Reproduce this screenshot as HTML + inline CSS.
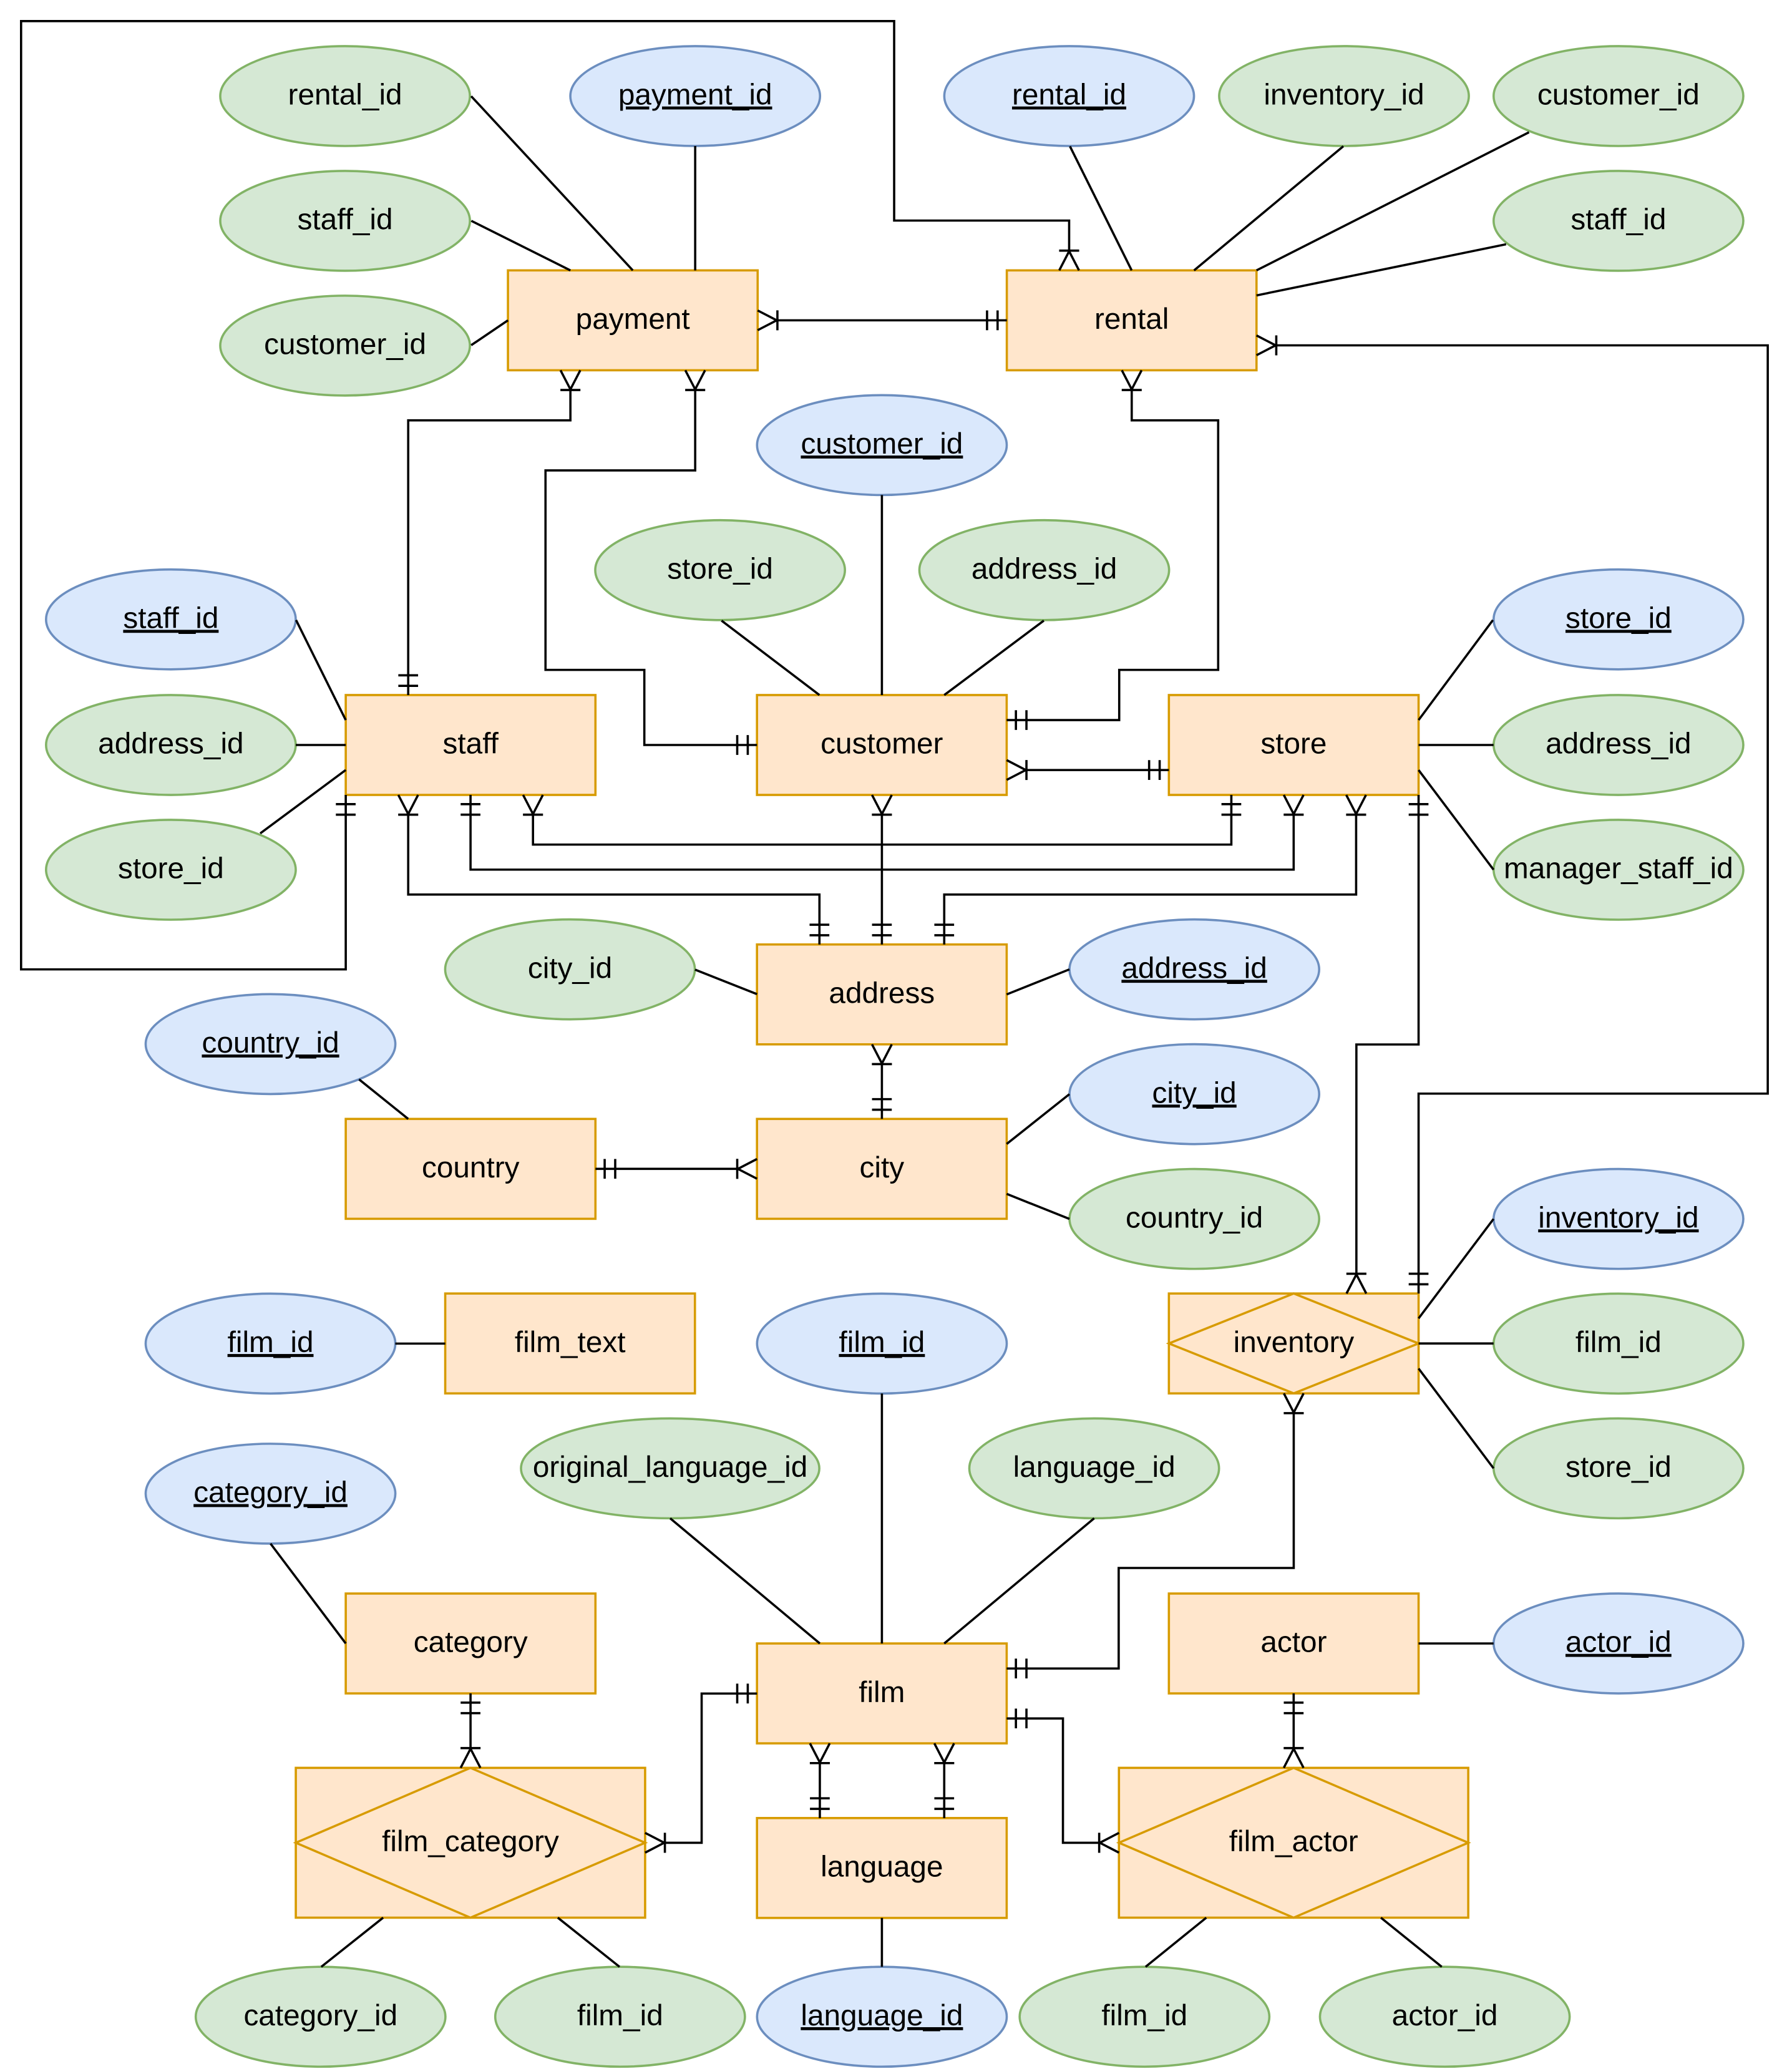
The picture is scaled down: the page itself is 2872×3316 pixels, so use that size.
<!DOCTYPE html>
<html>
<head>
<meta charset="utf-8">
<style>
html,body{margin:0;padding:0;background:#fff;}
svg{display:block;}
text{font-family:"Liberation Sans",Arial,Helvetica,sans-serif;font-size:22.6px;text-anchor:middle;fill:#000;}
.u{text-decoration:underline;}
.ent{fill:#ffe6cc;stroke:#d79b00;stroke-width:1.7;}
.g{fill:#d5e8d4;stroke:#82b366;stroke-width:1.7;}
.b{fill:#dae8fc;stroke:#6c8ebf;stroke-width:1.7;}
.ln{fill:none;stroke:#000;stroke-width:1.7;}
</style>
</head>
<body>
<svg xmlns="http://www.w3.org/2000/svg" width="2872" height="3316" viewBox="0 0 1360 1570.25">
<defs>
  <g id="mny"><path d="M0 -7.5 L14.5 0 L0 7.5 M15 -7.6 V7.6" fill="none" stroke="#000" stroke-width="1.7"/></g>
  <g id="one"><path d="M7 -7.5 V7.5 M15 -7.5 V7.5" fill="none" stroke="#000" stroke-width="1.7"/></g>
</defs>
<rect x="0" y="0" width="1360" height="1570.25" fill="#fff"/>

<!-- Entities -->
<rect class="ent" x="385.5" y="205.2" width="189.5" height="75.8"/>
<rect class="ent" x="764.1" y="205.2" width="189.5" height="75.8"/>
<rect class="ent" x="262.4" y="527.5" width="189.5" height="75.8"/>
<rect class="ent" x="574.5" y="527.5" width="189.5" height="75.8"/>
<rect class="ent" x="887.1" y="527.5" width="189.5" height="75.8"/>
<rect class="ent" x="574.5" y="716.8" width="189.5" height="75.8"/>
<rect class="ent" x="262.4" y="849.2" width="189.5" height="75.8"/>
<rect class="ent" x="574.5" y="849.2" width="189.5" height="75.8"/>
<rect class="ent" x="337.9" y="981.7" width="189.5" height="75.8"/>
<rect class="ent" x="887.1" y="981.7" width="189.5" height="75.8"/>
<polygon class="ent" points="887.1,1019.6 981.85,981.7 1076.6,1019.6 981.85,1057.5"/>
<rect class="ent" x="262.4" y="1209.4" width="189.5" height="75.8"/>
<rect class="ent" x="574.5" y="1247.3" width="189.5" height="75.8"/>
<rect class="ent" x="887.1" y="1209.4" width="189.5" height="75.8"/>
<rect class="ent" x="574.5" y="1379.8" width="189.5" height="75.8"/>
<rect class="ent" x="224.5" y="1341.7" width="265.1" height="113.7"/>
<polygon class="ent" points="224.5,1398.55 357.05,1341.7 489.6,1398.55 357.05,1455.4"/>
<rect class="ent" x="849.2" y="1341.7" width="265.1" height="113.7"/>
<polygon class="ent" points="849.2,1398.55 981.75,1341.7 1114.3,1398.55 981.75,1455.4"/>

<!-- Attribute ellipses -->
<ellipse class="g" cx="261.9" cy="72.9" rx="94.75" ry="37.9"/>
<ellipse class="b" cx="527.6" cy="72.9" rx="94.75" ry="37.9"/>
<ellipse class="b" cx="811.4" cy="72.9" rx="94.75" ry="37.9"/>
<ellipse class="g" cx="1020" cy="72.9" rx="94.75" ry="37.9"/>
<ellipse class="g" cx="1228.3" cy="72.9" rx="94.75" ry="37.9"/>
<ellipse class="g" cx="261.9" cy="167.6" rx="94.75" ry="37.9"/>
<ellipse class="g" cx="1228.3" cy="167.6" rx="94.75" ry="37.9"/>
<ellipse class="g" cx="261.9" cy="262.3" rx="94.75" ry="37.9"/>
<ellipse class="b" cx="669.3" cy="337.8" rx="94.75" ry="37.9"/>
<ellipse class="g" cx="546.5" cy="432.7" rx="94.75" ry="37.9"/>
<ellipse class="g" cx="792.5" cy="432.7" rx="94.75" ry="37.9"/>
<ellipse class="b" cx="129.7" cy="470.1" rx="94.75" ry="37.9"/>
<ellipse class="g" cx="129.7" cy="565.4" rx="94.75" ry="37.9"/>
<ellipse class="g" cx="129.7" cy="660.1" rx="94.75" ry="37.9"/>
<ellipse class="b" cx="1228.3" cy="470.1" rx="94.75" ry="37.9"/>
<ellipse class="g" cx="1228.3" cy="565.4" rx="94.75" ry="37.9"/>
<ellipse class="g" cx="1228.3" cy="660.1" rx="94.75" ry="37.9"/>
<ellipse class="g" cx="432.6" cy="735.7" rx="94.75" ry="37.9"/>
<ellipse class="b" cx="906.4" cy="735.7" rx="94.75" ry="37.9"/>
<ellipse class="b" cx="205.3" cy="792.4" rx="94.75" ry="37.9"/>
<ellipse class="b" cx="906.4" cy="830.4" rx="94.75" ry="37.9"/>
<ellipse class="g" cx="906.4" cy="925.1" rx="94.75" ry="37.9"/>
<ellipse class="b" cx="1228.3" cy="925.1" rx="94.75" ry="37.9"/>
<ellipse class="b" cx="205.3" cy="1019.7" rx="94.75" ry="37.9"/>
<ellipse class="b" cx="669.3" cy="1019.7" rx="94.75" ry="37.9"/>
<ellipse class="g" cx="1228.3" cy="1019.7" rx="94.75" ry="37.9"/>
<ellipse class="g" cx="1228.3" cy="1114.4" rx="94.75" ry="37.9"/>
<ellipse class="g" cx="508.6" cy="1114.4" rx="113.2" ry="37.9"/>
<ellipse class="g" cx="830.4" cy="1114.4" rx="94.75" ry="37.9"/>
<ellipse class="b" cx="205.3" cy="1133.6" rx="94.75" ry="37.9"/>
<ellipse class="b" cx="1228.3" cy="1247.3" rx="94.75" ry="37.9"/>
<ellipse class="g" cx="243.3" cy="1530.6" rx="94.75" ry="37.9"/>
<ellipse class="g" cx="470.6" cy="1530.6" rx="94.75" ry="37.9"/>
<ellipse class="b" cx="669.3" cy="1530.6" rx="94.75" ry="37.9"/>
<ellipse class="g" cx="868.6" cy="1530.6" rx="94.75" ry="37.9"/>
<ellipse class="g" cx="1096.5" cy="1530.6" rx="94.75" ry="37.9"/>

<!-- Attribute lines -->
<g class="ln">
<line x1="357.6" y1="73" x2="480.25" y2="205.2"/>
<line x1="357.7" y1="167.6" x2="432.9" y2="205.2"/>
<line x1="357.6" y1="262" x2="385.5" y2="243.1"/>
<line x1="527.6" y1="110.8" x2="527.6" y2="205.2"/>
<line x1="812" y1="111" x2="858.85" y2="205.2"/>
<line x1="1019.5" y1="111" x2="906.2" y2="205.2"/>
<line x1="1160.4" y1="100.4" x2="953.6" y2="205.2"/>
<line x1="1143" y1="185.4" x2="953.6" y2="224.2"/>
<line x1="669.3" y1="375.7" x2="669.3" y2="527.5"/>
<line x1="547.6" y1="471" x2="621.9" y2="527.5"/>
<line x1="792.2" y1="471" x2="716.6" y2="527.5"/>
<line x1="224.7" y1="470.6" x2="262.4" y2="546.5"/>
<line x1="224.5" y1="565.4" x2="262.4" y2="565.4"/>
<line x1="197.5" y1="632.5" x2="262.4" y2="584.4"/>
<line x1="1076.6" y1="546.5" x2="1133" y2="470.6"/>
<line x1="1076.6" y1="565.4" x2="1133.5" y2="565.4"/>
<line x1="1076.6" y1="584.4" x2="1133.5" y2="660.1"/>
<line x1="527.5" y1="735.9" x2="574.5" y2="754.5"/>
<line x1="764" y1="754.7" x2="811.6" y2="735.7"/>
<line x1="272.5" y1="819.2" x2="309.8" y2="849.2"/>
<line x1="764" y1="868.2" x2="811.6" y2="830.4"/>
<line x1="764" y1="906.1" x2="811.6" y2="925.1"/>
<line x1="300" y1="1019.7" x2="337.9" y2="1019.7"/>
<line x1="1076.6" y1="1000.6" x2="1133.5" y2="925.1"/>
<line x1="1076.6" y1="1019.6" x2="1133.5" y2="1019.6"/>
<line x1="1076.6" y1="1038.6" x2="1133.5" y2="1114.4"/>
<line x1="205.3" y1="1171.5" x2="262.4" y2="1247.3"/>
<line x1="669.3" y1="1057.6" x2="669.3" y2="1247.3"/>
<line x1="508.6" y1="1152.3" x2="622.2" y2="1247.3"/>
<line x1="830.4" y1="1152.3" x2="716.6" y2="1247.3"/>
<line x1="1076.6" y1="1247.3" x2="1133.5" y2="1247.3"/>
<line x1="243.8" y1="1492.7" x2="290.8" y2="1455.4"/>
<line x1="470.2" y1="1492.7" x2="423.3" y2="1455.4"/>
<line x1="669.3" y1="1455.6" x2="669.3" y2="1492.7"/>
<line x1="869.4" y1="1492.7" x2="915.5" y2="1455.4"/>
<line x1="1094.2" y1="1492.7" x2="1048" y2="1455.4"/>
</g>

<!-- Relationship connectors -->
<g class="ln">
<path d="M590 243.1 H764.1"/>
<path d="M262.4 603.3 V735.7 H16 V16 H678.6 V167.4 H811.4 V190.2"/>
<path d="M432.9 296 V319 H309.8 V527.5"/>
<path d="M527.6 296 V357 H414 V508.4 H489 V565.4 H574.5"/>
<path d="M858.9 296 V319 H924.5 V508.4 H849.4 V546.5 H764"/>
<path d="M779 584.4 H887.1"/>
<path d="M309.8 618.3 V678.9 H621.9 V716.8"/>
<path d="M357.1 603.3 V660 H981.8 V618.3"/>
<path d="M404.5 618.3 V641 H934.5 V603.3"/>
<path d="M669.3 618.3 V716.8"/>
<path d="M1029.2 618.3 V678.9 H716.6 V716.8"/>
<path d="M1076.6 603.3 V792.7 H1029.4 V966.7"/>
<path d="M968.6 262.1 H1341.6 V830 H1076.6 V981.7"/>
<path d="M669.3 807.6 V849.2"/>
<path d="M451.9 887.1 H559.5"/>
<path d="M981.85 1072.5 V1190 H849 V1266.3 H764"/>
<path d="M574.5 1285.3 H532.5 V1398.55 H504.6"/>
<path d="M764 1304.2 H806.7 V1398.55 H834.2"/>
<path d="M622.2 1338.1 V1379.8"/>
<path d="M716.6 1338.1 V1379.8"/>
<path d="M357.1 1285.2 V1326.7"/>
<path d="M981.8 1285.2 V1326.7"/>
</g>

<!-- Markers -->
<use href="#mny" transform="translate(575,243.1) rotate(0)"/>
<use href="#one" transform="translate(764.1,243.1) rotate(180)"/>
<use href="#one" transform="translate(262.4,603.3) rotate(90)"/>
<use href="#mny" transform="translate(811.4,205.2) rotate(-90)"/>
<use href="#mny" transform="translate(432.9,281) rotate(90)"/>
<use href="#one" transform="translate(309.8,527.5) rotate(-90)"/>
<use href="#mny" transform="translate(527.6,281) rotate(90)"/>
<use href="#one" transform="translate(574.5,565.4) rotate(180)"/>
<use href="#mny" transform="translate(858.9,281) rotate(90)"/>
<use href="#one" transform="translate(764,546.5) rotate(0)"/>
<use href="#mny" transform="translate(764,584.4) rotate(0)"/>
<use href="#one" transform="translate(887.1,584.4) rotate(180)"/>
<use href="#mny" transform="translate(309.8,603.3) rotate(90)"/>
<use href="#one" transform="translate(621.9,716.8) rotate(-90)"/>
<use href="#one" transform="translate(357.1,603.3) rotate(90)"/>
<use href="#mny" transform="translate(981.8,603.3) rotate(90)"/>
<use href="#mny" transform="translate(404.5,603.3) rotate(90)"/>
<use href="#one" transform="translate(934.5,603.3) rotate(90)"/>
<use href="#mny" transform="translate(669.3,603.3) rotate(90)"/>
<use href="#one" transform="translate(669.3,716.8) rotate(-90)"/>
<use href="#mny" transform="translate(1029.2,603.3) rotate(90)"/>
<use href="#one" transform="translate(716.6,716.8) rotate(-90)"/>
<use href="#one" transform="translate(1076.6,603.3) rotate(90)"/>
<use href="#mny" transform="translate(1029.4,981.7) rotate(-90)"/>
<use href="#mny" transform="translate(953.6,262.1) rotate(0)"/>
<use href="#one" transform="translate(1076.6,981.7) rotate(-90)"/>
<use href="#mny" transform="translate(669.3,792.6) rotate(90)"/>
<use href="#one" transform="translate(669.3,849.2) rotate(-90)"/>
<use href="#one" transform="translate(451.9,887.1) rotate(0)"/>
<use href="#mny" transform="translate(574.5,887.1) rotate(180)"/>
<use href="#mny" transform="translate(981.85,1057.5) rotate(90)"/>
<use href="#one" transform="translate(764,1266.3) rotate(0)"/>
<use href="#one" transform="translate(574.5,1285.3) rotate(180)"/>
<use href="#mny" transform="translate(489.6,1398.55) rotate(0)"/>
<use href="#one" transform="translate(764,1304.2) rotate(0)"/>
<use href="#mny" transform="translate(849.2,1398.55) rotate(180)"/>
<use href="#mny" transform="translate(622.2,1323.1) rotate(90)"/>
<use href="#one" transform="translate(622.2,1379.8) rotate(-90)"/>
<use href="#mny" transform="translate(716.6,1323.1) rotate(90)"/>
<use href="#one" transform="translate(716.6,1379.8) rotate(-90)"/>
<use href="#one" transform="translate(357.1,1285.2) rotate(90)"/>
<use href="#mny" transform="translate(357.1,1341.7) rotate(-90)"/>
<use href="#one" transform="translate(981.8,1285.2) rotate(90)"/>
<use href="#mny" transform="translate(981.8,1341.7) rotate(-90)"/>

<!-- Entity labels -->
<text x="480.25" y="249.6">payment</text>
<text x="858.85" y="249.6">rental</text>
<text x="357.15" y="571.9">staff</text>
<text x="669.25" y="571.9">customer</text>
<text x="981.85" y="571.9">store</text>
<text x="669.25" y="761.2">address</text>
<text x="357.15" y="893.6">country</text>
<text x="669.25" y="893.6">city</text>
<text x="432.65" y="1026.1">film_text</text>
<text x="981.85" y="1026.1">inventory</text>
<text x="357.15" y="1253.8">category</text>
<text x="669.25" y="1291.7">film</text>
<text x="981.85" y="1253.8">actor</text>
<text x="669.25" y="1424.2">language</text>
<text x="357.05" y="1405.05">film_category</text>
<text x="981.75" y="1405.05">film_actor</text>

<!-- Attribute labels -->
<text x="261.9" y="79.4">rental_id</text>
<text class="u" x="527.6" y="79.4">payment_id</text>
<text class="u" x="811.4" y="79.4">rental_id</text>
<text x="1020" y="79.4">inventory_id</text>
<text x="1228.3" y="79.4">customer_id</text>
<text x="261.9" y="174.1">staff_id</text>
<text x="1228.3" y="174.1">staff_id</text>
<text x="261.9" y="268.8">customer_id</text>
<text class="u" x="669.3" y="344.3">customer_id</text>
<text x="546.5" y="439.2">store_id</text>
<text x="792.5" y="439.2">address_id</text>
<text class="u" x="129.7" y="476.6">staff_id</text>
<text x="129.7" y="571.9">address_id</text>
<text x="129.7" y="666.6">store_id</text>
<text class="u" x="1228.3" y="476.6">store_id</text>
<text x="1228.3" y="571.9">address_id</text>
<text x="1228.3" y="666.6">manager_staff_id</text>
<text x="432.6" y="742.2">city_id</text>
<text class="u" x="906.4" y="742.2">address_id</text>
<text class="u" x="205.3" y="798.9">country_id</text>
<text class="u" x="906.4" y="836.9">city_id</text>
<text x="906.4" y="931.6">country_id</text>
<text class="u" x="1228.3" y="931.6">inventory_id</text>
<text class="u" x="205.3" y="1026.2">film_id</text>
<text class="u" x="669.3" y="1026.2">film_id</text>
<text x="1228.3" y="1026.2">film_id</text>
<text x="1228.3" y="1120.9">store_id</text>
<text x="508.6" y="1120.9">original_language_id</text>
<text x="830.4" y="1120.9">language_id</text>
<text class="u" x="205.3" y="1140.1">category_id</text>
<text class="u" x="1228.3" y="1253.8">actor_id</text>
<text x="243.3" y="1537.1">category_id</text>
<text x="470.6" y="1537.1">film_id</text>
<text class="u" x="669.3" y="1537.1">language_id</text>
<text x="868.6" y="1537.1">film_id</text>
<text x="1096.5" y="1537.1">actor_id</text>
</svg>
</body>
</html>
